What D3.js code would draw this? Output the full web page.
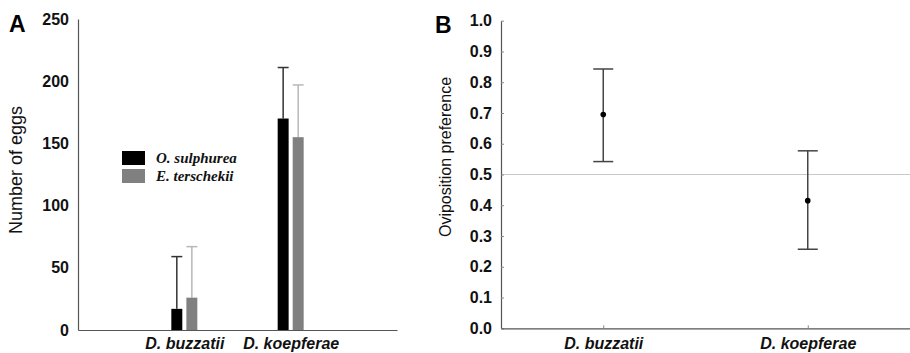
<!DOCTYPE html>
<html><head><meta charset="utf-8">
<script src="https://cdn.jsdelivr.net/npm/d3@7"></script>
<style>body{margin:0;background:#fff}svg{display:block}</style>
</head><body>
<svg id="c" width="910" height="353"></svg>
<script>
// Panel A data
const categories = ["D. buzzatii", "D. koepferae"];
const seriesNames = ["O. sulphurea", "E. terschekii"];
const sulphureaMean = [17, 170];
const sulphureaErr = [59, 211];
const terschekiiMean = [26, 155];
const terschekiiErr = [67, 197];
const eggTicks = [0, 50, 100, 150, 200, 250];
// Panel B data
const prefMean = [0.695, 0.415];
const prefLow = [0.542, 0.257];
const prefHigh = [0.843, 0.577];
const prefTicks = [0, 0.1, 0.2, 0.3, 0.4, 0.5, 0.6, 0.7, 0.8, 0.9, 1.0];
const prefRef = 0.5;

const svg = d3.select("#c");
const axisCol = "#555";
const barCol = ["#000000", "#808080"];
const errCol = ["#333333", "#b8b8b8"];

// ---------- Panel A ----------
const A = {l: 78, r: 397, t: 19, b: 330};
const yA = d3.scaleLinear().domain([0, 250]).range([A.b, A.t]);
const xA = d3.scalePoint().domain(categories).range([A.l, A.r]).padding(1);
const xs = d3.scaleBand().domain(seriesNames).range([-13, 13]).paddingInner(0.27);
const gA = svg.append("g");

const barData = [];
categories.forEach((c, i) => {
  barData.push({c, s: seriesNames[0], v: sulphureaMean[i], e: sulphureaErr[i], k: 0});
  barData.push({c, s: seriesNames[1], v: terschekiiMean[i], e: terschekiiErr[i], k: 1});
});
// error bars (upper only)
barData.forEach(d => {
  const cx = xA(d.c) + xs(d.s) + xs.bandwidth() / 2;
  gA.append("line").attr("x1", cx).attr("x2", cx).attr("y1", yA(d.v)).attr("y2", yA(d.e))
    .attr("stroke", errCol[d.k]).attr("stroke-width", 1.5);
  gA.append("line").attr("x1", cx - xs.bandwidth() / 2).attr("x2", cx + xs.bandwidth() / 2)
    .attr("y1", yA(d.e)).attr("y2", yA(d.e)).attr("stroke", errCol[d.k]).attr("stroke-width", 1.5);
});
gA.selectAll("rect.bar").data(barData).join("rect").attr("class", "bar")
  .attr("x", d => xA(d.c) + xs(d.s)).attr("width", xs.bandwidth())
  .attr("y", d => yA(d.v)).attr("height", d => yA(0) - yA(d.v))
  .attr("fill", d => barCol[d.k]);

const yAxA = gA.append("g").attr("transform", `translate(${A.l},0)`)
  .call(d3.axisLeft(yA).tickValues(eggTicks).tickSize(0).tickPadding(9));
const xAxA = gA.append("g").attr("transform", `translate(0,${A.b})`)
  .call(d3.axisBottom(xA).tickSize(0).tickPadding(8));
[yAxA, xAxA].forEach(ax => {
  ax.select(".domain").attr("stroke", axisCol).attr("stroke-width", 1.2);
});
yAxA.selectAll("text").attr("font-family", "Liberation Sans, Arial, sans-serif")
  .attr("font-weight", "bold").attr("font-size", 16).attr("fill", "#111");
xAxA.selectAll("text").attr("font-family", "Liberation Sans, Arial, sans-serif")
  .attr("font-weight", "bold").attr("font-style", "italic").attr("font-size", 16).attr("fill", "#111");

gA.append("text").attr("x", 9).attr("y", 32).text("A")
  .attr("font-family", "Liberation Sans, Arial, sans-serif").attr("font-weight", "bold").attr("font-size", 23);
gA.append("text").attr("transform", `translate(22,170) rotate(-90)`).attr("text-anchor", "middle")
  .text("Number of eggs").attr("font-family", "Liberation Sans, Arial, sans-serif").attr("font-size", 18).attr("fill", "#111");

// legend
const leg = gA.append("g");
seriesNames.forEach((s, i) => {
  leg.append("rect").attr("x", 122).attr("y", 151 + i * 18).attr("width", 23).attr("height", 14).attr("fill", barCol[i]);
  leg.append("text").attr("x", 156).attr("y", 163 + i * 18).text(s)
    .attr("font-family", "Liberation Serif, Times New Roman, serif").attr("font-weight", "bold")
    .attr("font-style", "italic").attr("font-size", 15).attr("fill", "#111");
});

// ---------- Panel B ----------
const B = {l: 501, r: 910, t: 20.7, b: 328.3};
const yB = d3.scaleLinear().domain([0, 1]).range([B.b, B.t]);
const xB = d3.scalePoint().domain(categories).range([B.l, B.r]).padding(0.5);
const gB = svg.append("g");

gB.append("line").attr("x1", B.l).attr("x2", B.r).attr("y1", yB(prefRef)).attr("y2", yB(prefRef))
  .attr("stroke", "#c8c8c8").attr("stroke-width", 1);

const yAxB = gB.append("g").attr("transform", `translate(${B.l},0)`)
  .call(d3.axisLeft(yB).tickValues(prefTicks).tickFormat(d3.format(".1f")).tickSizeInner(-3).tickSizeOuter(0).tickPadding(9));
const xAxB = gB.append("g").attr("transform", `translate(0,${B.b})`)
  .call(d3.axisBottom(xB).tickSizeInner(-3).tickSizeOuter(0).tickPadding(9));
[yAxB, xAxB].forEach(ax => {
  ax.select(".domain").attr("stroke", axisCol).attr("stroke-width", 1.2);
  ax.selectAll(".tick line").attr("stroke", "#888");
});
yAxB.selectAll("text").attr("font-family", "Liberation Sans, Arial, sans-serif")
  .attr("font-weight", "bold").attr("font-size", 16).attr("fill", "#111");
xAxB.selectAll("text").attr("font-family", "Liberation Sans, Arial, sans-serif")
  .attr("font-weight", "bold").attr("font-style", "italic").attr("font-size", 16).attr("fill", "#111");

categories.forEach((c, i) => {
  const cx = xB(c);
  gB.append("line").attr("x1", cx).attr("x2", cx).attr("y1", yB(prefLow[i])).attr("y2", yB(prefHigh[i]))
    .attr("stroke", "#444").attr("stroke-width", 1.5);
  [prefLow[i], prefHigh[i]].forEach(v => {
    gB.append("line").attr("x1", cx - 10).attr("x2", cx + 10).attr("y1", yB(v)).attr("y2", yB(v))
      .attr("stroke", "#444").attr("stroke-width", 1.5);
  });
  gB.append("circle").attr("cx", cx).attr("cy", yB(prefMean[i])).attr("r", 2.8).attr("fill", "#000");
});

gB.append("text").attr("x", 435).attr("y", 33).text("B")
  .attr("font-family", "Liberation Sans, Arial, sans-serif").attr("font-weight", "bold").attr("font-size", 23);
gB.append("text").attr("transform", `translate(451,157) rotate(-90)`).attr("text-anchor", "middle")
  .text("Oviposition preference").attr("font-family", "Liberation Sans, Arial, sans-serif").attr("font-size", 16).attr("fill", "#111");
</script>
</body></html>
